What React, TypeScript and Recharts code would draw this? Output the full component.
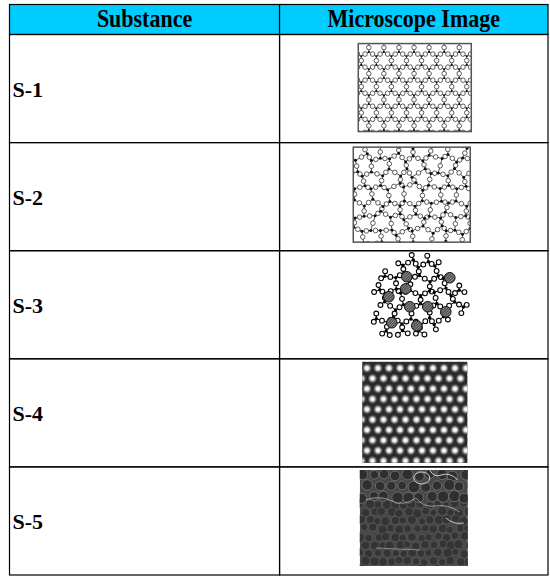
import React from 'react';
import { ComposedChart, XAxis, YAxis, Scatter, ReferenceArea } from 'recharts';

// ---- data ----
const headers = ['Substance', 'Microscope Image'];
const substances = ['S-1', 'S-2', 'S-3', 'S-4', 'S-5'];
const imageKinds = ['crystal', 'glass', 'modified', 'lattice', 'sem'];

// ---- layout / style constants ----
const FONT = "'Liberation Serif', 'Times New Roman', Times, serif";
const HEADER_SPAN = 0.2775; // header row height relative to a body row
const COL_SPLIT = 1.003;
const HEADER_FILL = '#00CCFF';
const LINE_W = 1.2;

const labelData = substances.map((name, i) => ({ x: 0, y: i + 0.5, name }));
const imageData = imageKinds.map((kind, i) => ({ x: (COL_SPLIT + 2) / 2, y: i + 0.5, kind }));

const IMAGE_STYLE: Record<string, { dx: number; dy: number; w: number; h: number }> = {
  crystal: { dx: 1, dy: -1, w: 113, h: 88 },
  glass: { dx: -2, dy: -2, w: 117, h: 95 },
  modified: { dx: 4, dy: -6, w: 104, h: 90 },
  lattice: { dx: 1, dy: -0.5, w: 105, h: 101 },
  sem: { dx: 0, dy: -3, w: 108, h: 96 },
};

// deterministic texture noise (for the illustrative micrographs only)
function hash(a: number, b: number) {
  const v = Math.sin(a * 127.1 + b * 311.7) * 43758.5453;
  return v - Math.floor(v);
}

type V = { x: number; y: number };
function honeycomb(w: number, h: number, s: number, jit: number, seed: number, ox: number, oy: number, pointy = false) {
  const W = pointy ? h : w;
  const H = pointy ? w : h;
  const OX = pointy ? oy : ox;
  const OY = pointy ? ox : oy;
  const hh = Math.sqrt(3) * s;
  const verts = new Map<string, V>();
  const edges = new Map<string, [string, string]>();
  const cols = Math.ceil(W / (1.5 * s)) + 2;
  const rows = Math.ceil(H / hh) + 2;
  for (let c = -1; c <= cols; c++) {
    for (let r = -1; r <= rows; r++) {
      const hx = OX + c * 1.5 * s;
      const hy = OY + (r + (Math.abs(c) % 2 ? 0.5 : 0)) * hh;
      const keys: string[] = [];
      for (let k = 0; k < 6; k++) {
        const a = (Math.PI / 3) * k;
        const vx = hx + s * Math.cos(a);
        const vy = hy + s * Math.sin(a);
        const key = `${Math.round(vx * 4)}_${Math.round(vy * 4)}`;
        if (!verts.has(key)) {
          const jx = vx + (hash(vx * 0.37, vy * 0.21 + seed) - 0.5) * 2 * jit;
          const jy = vy + (hash(vy * 0.29 + seed, vx * 0.43) - 0.5) * 2 * jit;
          verts.set(key, pointy ? { x: jy, y: jx } : { x: jx, y: jy });
        }
        keys.push(key);
      }
      for (let k = 0; k < 6; k++) {
        const a = keys[k];
        const b = keys[(k + 1) % 6];
        const ek = a < b ? a + '|' + b : b + '|' + a;
        if (!edges.has(ek)) edges.set(ek, [a, b]);
      }
    }
  }
  return { verts, edges };
}

function NetworkImage({ w, h, s, jit, seed, ox, oy, id, oR, siR, pointy, lw }: any) {
  const { verts, edges } = honeycomb(w, h, s, jit, seed, ox, oy, pointy);
  const lines: React.ReactNode[] = [];
  const oxy: React.ReactNode[] = [];
  let i = 0;
  edges.forEach(([a, b]) => {
    const p = verts.get(a)!;
    const q = verts.get(b)!;
    lines.push(<line key={'l' + i} x1={p.x} y1={p.y} x2={q.x} y2={q.y} stroke="#2a2a2a" strokeWidth={lw} />);
    oxy.push(<circle key={'o' + i} cx={(p.x + q.x) / 2} cy={(p.y + q.y) / 2} r={oR} fill="#fff" stroke="#2a2a2a" strokeWidth={0.75} />);
    i++;
  });
  const dots: React.ReactNode[] = [];
  verts.forEach((v, k) => dots.push(<circle key={'d' + k} cx={v.x} cy={v.y} r={siR} fill="#111" />));
  return (
    <g>
      <defs>
        <clipPath id={id}>
          <rect x={0} y={0} width={w} height={h} />
        </clipPath>
      </defs>
      <rect x={0} y={0} width={w} height={h} fill="#fff" />
      <g clipPath={`url(#${id})`}>
        {lines}
        {oxy}
        {dots}
      </g>
      <rect x={0} y={0} width={w} height={h} fill="none" stroke="#555" strokeWidth={1.5} />
    </g>
  );
}

const CATIONS: [number, number][] = [
  [-11, -22], [32, -21], [-12, -10], [-29, -2], [-8, 8], [10, 8], [28, 13], [-26, 24], [-1, 27],
];

function ModifiedImage({ w, h, id }: any) {
  const { verts, edges } = honeycomb(w, h, 9.6, 2.3, 5, 4, 2, true);
  const cx = w / 2;
  const cy = h / 2;
  const inside = (v: V) => {
    const dx = (v.x - cx) / 49;
    const dy = (v.y - cy) / 43;
    const th = Math.atan2(dy, dx);
    const lim = 1 + 0.1 * Math.sin(3 * th + 0.7) + 0.07 * Math.sin(5 * th + 2);
    return Math.sqrt(dx * dx + dy * dy) < lim * 0.9;
  };
  const lines: React.ReactNode[] = [];
  const oxy: React.ReactNode[] = [];
  const dots: React.ReactNode[] = [];
  let i = 0;
  edges.forEach(([a, b]) => {
    const p = verts.get(a)!;
    const q = verts.get(b)!;
    const ip = inside(p);
    const iq = inside(q);
    if (!ip && !iq) return;
    const mx = (p.x + q.x) / 2;
    const my = (p.y + q.y) / 2;
    if (ip && iq) {
      lines.push(<line key={'l' + i} x1={p.x} y1={p.y} x2={q.x} y2={q.y} stroke="#000" strokeWidth={1} />);
    } else {
      const r = ip ? p : q;
      lines.push(<line key={'l' + i} x1={r.x} y1={r.y} x2={mx} y2={my} stroke="#000" strokeWidth={1} />);
    }
    oxy.push(<circle key={'o' + i} cx={mx} cy={my} r={2.4} fill="#fff" stroke="#000" strokeWidth={1.1} />);
    i++;
  });
  verts.forEach((v, k) => {
    if (inside(v)) dots.push(<circle key={'d' + k} cx={v.x} cy={v.y} r={1.7} fill="#000" />);
  });
  return (
    <g>
      <defs>
        <pattern id={id + 'h'} patternUnits="userSpaceOnUse" width={2} height={2} patternTransform="rotate(45)">
          <rect x={0} y={0} width={2} height={2} fill="#8a8a8a" />
          <rect x={0} y={0} width={1} height={2} fill="#444" />
        </pattern>
      </defs>
      {lines}
      {oxy}
      {dots}
      {CATIONS.map(([dx, dy], k) => (
        <circle key={'c' + k} cx={cx + dx} cy={cy + dy} r={5.3} fill={`url(#${id}h)`} stroke="#111" strokeWidth={1} />
      ))}
    </g>
  );
}

function LatticeImage({ w, h, id }: any) {
  const PW = 11;
  const PH = 20.6;
  const spots: [number, number][] = [
    [0, 0], [PW, 0], [0, PH], [PW, PH], [PW / 2, PH / 2],
  ];
  return (
    <g>
      <defs>
        <radialGradient id={id + 'g'}>
          <stop offset="0" stopColor="#ffffff" />
          <stop offset="0.32" stopColor="#f0f0f0" />
          <stop offset="0.6" stopColor="#858585" />
          <stop offset="0.85" stopColor="#3c3c3c" />
          <stop offset="1" stopColor="#2a2a2a" stopOpacity={0} />
        </radialGradient>
        <pattern id={id + 'p'} patternUnits="userSpaceOnUse" x={4.7} y={6.3} width={PW} height={PH}>
          {spots.map(([sx, sy], k) => (
            <circle key={k} cx={sx} cy={sy} r={5.2} fill={`url(#${id}g)`} />
          ))}
        </pattern>
      </defs>
      <rect x={0} y={0} width={w} height={h} fill="#2a2a2a" />
      <rect x={0} y={0} width={w} height={h} fill={`url(#${id}p)`} />
    </g>
  );
}

function SemImage({ w, h, id }: any) {
  const small: React.ReactNode[] = [];
  for (let r = 0; r < 9; r++) {
    for (let c = 0; c < 14; c++) {
      const bx = 1 + c * 8.6 + (r % 2) * 4.3 + (hash(r * 1.3, c * 2.1) - 0.5) * 2.6;
      const by = 34 + r * 8.2 + (hash(c * 1.7 + 7, r * 0.9) - 0.5) * 2.6;
      const rad = 3.5 + hash(r * 3.1 + 1, c * 5.3 + 2) * 1.3;
      small.push(<circle key={`s${r}_${c}`} cx={bx} cy={by} r={rad} fill="#343434" stroke="#5a5a5a" strokeWidth={0.8} />);
    }
  }
  const big: React.ReactNode[] = [];
  for (let r = 0; r < 3; r++) {
    for (let c = 0; c < 10; c++) {
      const bx = 2 + c * 11.5 + (r % 2) * 5.7 + (hash(r * 2.3 + 3, c * 1.1) - 0.5) * 3;
      const by = 5 + r * 11 + (hash(c * 0.7 + 1, r * 4.1) - 0.5) * 3;
      const rad = 4.3 + hash(r * 7.7, c * 3.3 + 5) * 1.6;
      big.push(<circle key={`b${r}_${c}`} cx={bx} cy={by} r={rad} fill="#2f2f2f" stroke="#747474" strokeWidth={0.9} />);
    }
  }
  return (
    <g>
      <defs>
        <clipPath id={id}>
          <rect x={0} y={0} width={w} height={h} />
        </clipPath>
      </defs>
      <g clipPath={`url(#${id})`}>
        <rect x={0} y={0} width={w} height={h} fill="#474747" />
        {small}
        {big}
        <path d="M 70 0 Q 74 8 82 5 T 98 10" fill="none" stroke="#cfcfcf" strokeWidth={1} />
        <path d="M 6 30 Q 20 25 32 31 T 56 28 Q 64 38 76 36 T 100 42" fill="none" stroke="#b0b0b0" strokeWidth={0.8} />
        <path d="M 86 48 Q 94 55 104 53" fill="none" stroke="#d0d0d0" strokeWidth={0.9} />
        <path d="M 16 78 L 60 80" fill="none" stroke="#a8a8a8" strokeWidth={0.7} />
        <ellipse cx={62} cy={8} rx={8} ry={6} fill="none" stroke="#cfcfcf" strokeWidth={1} />
      </g>
    </g>
  );
}

const renderImage = (props: any) => {
  const { cx, cy, payload } = props;
  if (cx == null || cy == null || !payload) return <g />;
  const kind: string = payload.kind;
  const st = IMAGE_STYLE[kind];
  const x0 = cx + st.dx - st.w / 2;
  const y0 = cy + st.dy - st.h / 2;
  let body: React.ReactNode = null;
  if (kind === 'crystal')
    body = <NetworkImage w={st.w} h={st.h} s={8.7} jit={0} seed={0} ox={3} oy={4} id="imgCrystal" oR={2.3} siR={1.1} lw={0.7} pointy />;
  else if (kind === 'glass')
    body = <NetworkImage w={st.w} h={st.h} s={9.6} jit={2.8} seed={3} ox={3} oy={4} id="imgGlass" oR={2.3} siR={1.5} lw={0.8} pointy />;
  else if (kind === 'modified') body = <ModifiedImage w={st.w} h={st.h} id="imgMod" />;
  else if (kind === 'lattice') body = <LatticeImage w={st.w} h={st.h} id="imgLattice" />;
  else body = <SemImage w={st.w} h={st.h} id="imgSem" />;
  return <g transform={`translate(${x0},${y0})`}>{body}</g>;
};

const renderLabel = (props: any) => {
  const { cx, cy, payload } = props;
  if (cx == null || cy == null || !payload) return <g />;
  return (
    <text x={cx + 3} y={cy + 8} fontFamily={FONT} fontWeight="bold" fontSize={22} fill="#000">
      {payload.name}
    </text>
  );
};

const makeCell = (text: string | null, fill: string) => (p: any) => {
  const { x, y, width, height } = p;
  return (
    <g>
      <rect x={x} y={y} width={width} height={height} fill={fill} stroke="#000" strokeWidth={LINE_W} />
      {text ? (
        <text
          transform={`translate(${x + width / 2},${y + height / 2 + 8}) scale(1,1.14)`}
          textAnchor="middle"
          fontFamily={FONT}
          fontWeight="bold"
          fontSize={22}
          fill="#000"
        >
          {text}
        </text>
      ) : null}
    </g>
  );
};

export default function App() {
  return (
    <div style={{ position: 'absolute', left: 0, top: 0, width: 550, height: 577, background: '#fff' }}>
      <ComposedChart width={550} height={577} margin={{ top: 4.5, right: 2, bottom: 2, left: 9.5 }}>
        <XAxis type="number" dataKey="x" domain={[0, 2]} hide allowDataOverflow />
        <YAxis type="number" dataKey="y" domain={[-HEADER_SPAN, 5]} reversed hide allowDataOverflow />
        {headers.map((t, i) => (
          <ReferenceArea
            key={'h' + i}
            x1={i === 0 ? 0 : COL_SPLIT}
            x2={i === 0 ? COL_SPLIT : 2}
            y1={-HEADER_SPAN}
            y2={0}
            ifOverflow="visible"
            shape={makeCell(t, HEADER_FILL)}
          />
        ))}
        {substances.map((s, i) =>
          [0, 1].map((j) => (
            <ReferenceArea
              key={`c${i}_${j}`}
              x1={j === 0 ? 0 : COL_SPLIT}
              x2={j === 0 ? COL_SPLIT : 2}
              y1={i}
              y2={i + 1}
              ifOverflow="visible"
              shape={makeCell(null, 'none')}
            />
          ))
        )}
        <Scatter data={labelData} isAnimationActive={false} shape={renderLabel} />
        <Scatter data={imageData} isAnimationActive={false} shape={renderImage} />
      </ComposedChart>
    </div>
  );
}
